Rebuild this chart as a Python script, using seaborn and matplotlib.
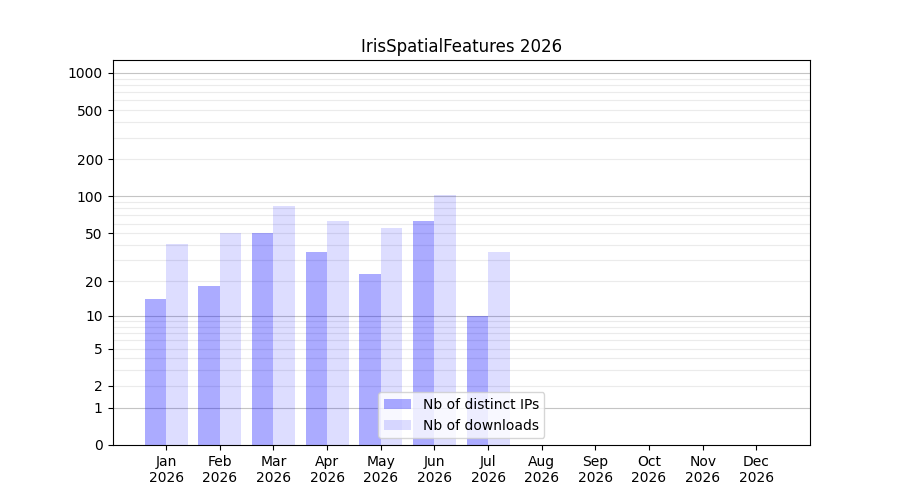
import numpy as np
import pandas as pd
import matplotlib
matplotlib.use("Agg")
import matplotlib.pyplot as plt
import seaborn as sns

months = ["Jan", "Feb", "Mar", "Apr", "May", "Jun", "Jul", "Aug", "Sep", "Oct", "Nov", "Dec"]
year = "2026"
distinct_ips = [14, 18, 50, 35, 23, 63, 10]
downloads = [41, 50, 83, 63, 55, 103, 35]
series_labels = ["Nb of distinct IPs", "Nb of downloads"]
ytick_values = [0, 1, 2, 5, 10, 20, 50, 100, 200, 500, 1000]
title = "IrisSpatialFeatures 2026"

rows = []
for m, v in zip(months, distinct_ips):
    rows.append({"month": m, "value": v, "series": series_labels[0]})
for m, v in zip(months, downloads):
    rows.append({"month": m, "value": v, "series": series_labels[1]})
df = pd.DataFrame(rows)

fig, ax = plt.subplots(figsize=(9, 5), dpi=100)

fwd = lambda x: np.log10(1 + np.clip(x, 0, None))
inv = lambda y: 10 ** y - 1

sns.barplot(data=df, x="month", y="value", hue="series", order=months,
            hue_order=series_labels, palette=["#0000ff", "#0000ff"],
            saturation=1, legend=False, ax=ax, linewidth=0, zorder=2)

alphas = [0.33, 0.135]
for cont, a in zip(ax.containers, alphas):
    for p in cont:
        p.set_facecolor((0, 0, 1, a))
        p.set_edgecolor("none")

ax.set_yscale("function", functions=(fwd, inv))
ax.set_ylim(0, inv(3.105))
ax.set_xlim(-1, 12)

# grid lines
for d in [1, 10, 100]:
    for k in range(2, 10):
        ax.axhline(k * d, color="#ebebeb", lw=0.8, zorder=0.5)
for d in [1, 10, 100, 1000]:
    ax.axhline(d, color="#c4c4c4", lw=0.8, zorder=0.6)

ax.set_yticks(ytick_values)
ax.set_yticklabels([str(v) for v in ytick_values])
ax.yaxis.set_minor_locator(matplotlib.ticker.NullLocator())
ax.set_xticks(range(len(months)))
ax.set_xticklabels([f"{m}\n{year}" for m in months])
ax.set_xlabel("")
ax.set_ylabel("")
ax.set_title(title)

ax.legend(ax.containers, series_labels, loc="lower center")

fig.savefig("out.png", dpi=100)
